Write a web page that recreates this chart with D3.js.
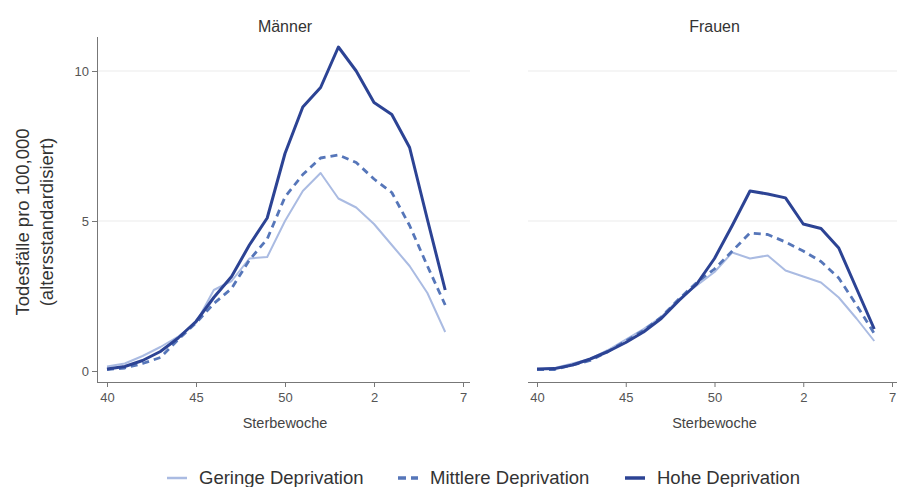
<!DOCTYPE html>
<html>
<head>
<meta charset="utf-8">
<script src="https://cdn.jsdelivr.net/npm/d3@7"></script>
<style>
  body { margin: 0; background: #fff; }
  svg { font-family: "Liberation Sans", Arial, sans-serif; }
</style>
</head>
<body>
<div id="chart"></div>
<script>
// Sterbewoche 40..53 (2020), 1..6 (2021)
const weeks = [40, 41, 42, 43, 44, 45, 46, 47, 48, 49, 50, 51, 52, 53, 1, 2, 3, 4, 5, 6];
const tickWeeks = [40, 45, 50, 2, 7];
const yTicks = [0, 5, 10];
const seriesNames = ['Geringe Deprivation', 'Mittlere Deprivation', 'Hohe Deprivation'];

const menLow  = [0.15, 0.25, 0.5, 0.8, 1.15, 1.6, 2.7, 3.0, 3.75, 3.8, 5.0, 6.0, 6.6, 5.75, 5.45, 4.9, 4.2, 3.5, 2.6, 1.3];
const menMid  = [0.05, 0.1, 0.25, 0.45, 1.05, 1.6, 2.25, 2.75, 3.7, 4.4, 5.8, 6.55, 7.1, 7.2, 6.95, 6.4, 5.95, 4.85, 3.5, 2.2];
const menHigh = [0.07, 0.15, 0.35, 0.65, 1.1, 1.65, 2.45, 3.15, 4.2, 5.1, 7.25, 8.8, 9.45, 10.8, 10.0, 8.95, 8.55, 7.45, 5.05, 2.7];

const womenLow  = [0.05, 0.1, 0.25, 0.4, 0.7, 1.05, 1.4, 1.8, 2.4, 2.85, 3.3, 3.95, 3.75, 3.85, 3.35, 3.15, 2.95, 2.45, 1.75, 1.0];
const womenMid  = [0.05, 0.05, 0.2, 0.35, 0.65, 1.0, 1.35, 1.8, 2.4, 2.95, 3.4, 4.0, 4.6, 4.55, 4.3, 4.0, 3.65, 3.1, 2.2, 1.25];
const womenHigh = [0.07, 0.08, 0.2, 0.4, 0.65, 0.95, 1.3, 1.75, 2.35, 2.9, 3.75, 4.85, 6.0, 5.9, 5.77, 4.9, 4.75, 4.1, 2.75, 1.4];

const colors = ['#aabbe2', '#5676b9', '#2c4394'];
const widths = [2, 2.8, 3];
const dashes = [null, '7,5', null];

const W = 897, H = 487;
const svg = d3.select('#chart').append('svg').attr('width', W).attr('height', H);

// week index position: 53-week year, so week 7 sits at index 20
const weekIndex = w => (w >= 40 ? w - 40 : w + 13);

const y = d3.scaleLinear().domain([0, 10]).range([371, 71]);

const panels = [
  { title: 'Männer', left: 97, right: 470, x0: 107, x1: 463, data: [menLow, menMid, menHigh], yAxis: true },
  { title: 'Frauen', left: 528, right: 897, x0: 537, x1: 892, data: [womenLow, womenMid, womenHigh], yAxis: false }
];

panels.forEach(p => {
  const x = d3.scaleLinear().domain([0, 20]).range([p.x0, p.x1]);
  const g = svg.append('g');

  // gridlines
  g.selectAll('.grid').data([5, 10]).enter().append('line')
    .attr('x1', p.left).attr('x2', p.right)
    .attr('y1', d => y(d)).attr('y2', d => y(d))
    .attr('stroke', '#ececec').attr('stroke-width', 1.2);

  // title
  g.append('text')
    .attr('x', (p.x0 + p.x1) / 2).attr('y', 32)
    .attr('text-anchor', 'middle').attr('font-size', 16).attr('fill', '#333')
    .text(p.title);

  // x axis
  const xAxis = d3.axisBottom(x)
    .tickValues(tickWeeks.map(weekIndex))
    .tickFormat((d, i) => tickWeeks[i])
    .tickSize(5).tickSizeOuter(0);
  const gx = g.append('g').attr('transform', 'translate(0,382)').call(xAxis);
  gx.select('.domain').attr('d', `M${p.left},0.5H${p.right}`).attr('stroke', '#777');
  gx.selectAll('.tick line').attr('stroke', '#777');
  gx.selectAll('.tick text').attr('font-size', 13).attr('fill', '#555').attr('y', 11)
    .attr('font-family', '"Liberation Sans", Arial, sans-serif');

  g.append('text')
    .attr('x', (p.x0 + p.x1) / 2).attr('y', 428)
    .attr('text-anchor', 'middle').attr('font-size', 14.5).attr('fill', '#444')
    .text('Sterbewoche');

  if (p.yAxis) {
    const yAxis = d3.axisLeft(y).tickValues(yTicks).tickSize(5).tickSizeOuter(0);
    const gy = g.append('g').attr('transform', `translate(${p.left},0)`).call(yAxis);
    gy.select('.domain').attr('d', 'M0.5,37V382').attr('stroke', '#777');
    gy.selectAll('.tick line').attr('stroke', '#777');
    gy.selectAll('.tick text').attr('font-size', 13).attr('fill', '#555')
      .attr('font-family', '"Liberation Sans", Arial, sans-serif');
  }

  const line = d3.line().x((d, i) => x(i)).y(d => y(d));
  g.selectAll('.series').data(p.data).enter().append('path')
    .attr('d', line)
    .attr('fill', 'none')
    .attr('stroke', (d, i) => colors[i])
    .attr('stroke-width', (d, i) => widths[i])
    .attr('stroke-dasharray', (d, i) => dashes[i])
    .attr('stroke-linejoin', 'round');
});

// y axis label
const yl = svg.append('text')
  .attr('transform', 'translate(29,222) rotate(-90)')
  .attr('text-anchor', 'middle').attr('font-size', 18.5).attr('fill', '#333');
yl.append('tspan').attr('x', 0).attr('dy', 0).text('Todesfälle pro 100,000');
yl.append('tspan').attr('x', 0).attr('dy', 24).text('(altersstandardisiert)');

// legend
const legendX = [167, 398, 625];
const leg = svg.selectAll('.leg').data(seriesNames).enter().append('g')
  .attr('transform', (d, i) => `translate(${legendX[i]},478)`);
leg.append('line')
  .attr('x1', 0).attr('x2', 20)
  .attr('y1', 0).attr('y2', 0)
  .attr('stroke', (d, i) => colors[i])
  .attr('stroke-width', (d, i) => widths[i] + 0.5)
  .attr('stroke-dasharray', (d, i) => i === 1 ? '8,5' : null);
leg.append('text')
  .attr('x', 32).attr('y', 0).attr('dy', '0.35em')
  .attr('font-size', 18.5).attr('fill', '#333')
  .text(d => d);
</script>
</body>
</html>
